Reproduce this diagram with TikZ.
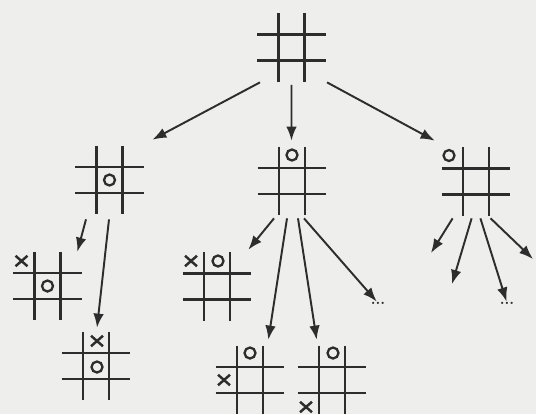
\documentclass[tikz,border=0pt]{standalone}
\usepackage{tikz}
\usetikzlibrary{arrows.meta,calc,positioning,shapes.misc}
\definecolor{paper}{RGB}{238,238,236}
\definecolor{ink}{RGB}{45,45,45}

\begin{document}
\begin{tikzpicture}[x=0.02cm,y=-0.02cm,
  board/.style={minimum size=1.36cm,inner sep=0pt},
  gridline/.style={ink,line width=1.4pt},
  omark/.style={circle,draw=ink,line width=1.3pt,minimum size=0.22cm,inner sep=0pt},
  xmark/.style={cross out,draw=ink,line width=1.4pt,minimum width=0.19cm,minimum height=0.16cm,inner sep=0pt},
  arr/.style={ink,line width=1.1pt,-{Latex[length=8pt,width=6pt]}},
  more/.style={text=ink,font=\footnotesize\bfseries,inner sep=0pt}]
\fill[paper] (0,0) rectangle (536,414);
\useasboundingbox (0,0) rectangle (536,414);
\foreach \n/\x/\y in {root/291.5/47.5,b2/109.5/180,b3/292/181,b4/476/181.5,
    b5/47.5/286,b6/217/286.5,b7/96/366,b8/250/380,b9/332/380}{
  \node[board] (\n) at (\x,\y) {};
  \draw[gridline] ([shift={(-13,0)}]\n.north) -- ([shift={(-13,0)}]\n.south);
  \draw[gridline] ([shift={(13,0)}]\n.north) -- ([shift={(13,0)}]\n.south);
  \draw[gridline] ([shift={(0,-13)}]\n.west) -- ([shift={(0,-13)}]\n.east);
  \draw[gridline] ([shift={(0,13)}]\n.west) -- ([shift={(0,13)}]\n.east);
}
\foreach \b/\dx/\dy in {b2/0/0,b3/0/-26,b4/-27/-26,b5/0/0,b6/1/-25.5,b7/1/1,b8/0/-27,b9/1/-27}
  \node[omark] (\b o) at ([shift={(\dx,\dy)}]\b.center) {};
\foreach \b/\dx/\dy in {b5/-26/-25,b6/-26/-25.5,b7/1/-25,b8/-26/0,b9/-26/27}
  \node[xmark] (\b x) at ([shift={(\dx,\dy)}]\b.center) {};
\node[more] (more1) at (378,303) {...};
\node[more] (more2) at (507,303) {...};
\coordinate (end1) at (431,253);
\coordinate (end2) at (452,284);
\coordinate (end4) at (533,259);
\draw[arr] ([shift={(-31.5,0.5)}]root.south) -- ([shift={(8.5,-6)}]b2.north east);
\draw[arr] ([shift={(0,3)}]root.south) -- ([shift={(-0.5,-6)}]b3.north);
\draw[arr] ([shift={(35.5,0.5)}]root.south) -- ([shift={(-7,-6.5)}]b4.north west);
\draw[arr] ([shift={(-23.5,5)}]b2.south) -- ([shift={(-4.5,0)}]b5.north east);
\draw[arr] ([shift={(-0.5,5)}]b2.south) -- ([shift={(1,-4)}]b7.north);
\draw[arr] ([shift={(-18,3)}]b3.south) -- ([shift={(-3,-2.5)}]b6.north east);
\draw[arr] ([shift={(-5,3)}]b3.south) -- ([shift={(-16,-6)}]b8.north east);
\draw[arr] ([shift={(6,3)}]b3.south) -- ([shift={(19,-6)}]b9.north west);
\draw[arr] ([shift={(12,3)}]b3.south) -- ([shift={(-13,-21)}]more1);
\draw[arr] ([shift={(-23.4,2.5)}]b4.south) -- (end1);
\draw[arr] ([shift={(-4.4,2.5)}]b4.south) -- (end2);
\draw[arr] ([shift={(4.4,2.5)}]b4.south) -- ([shift={(-14,-26)}]more2);
\draw[arr] ([shift={(14.6,2.5)}]b4.south) -- (end4);
\end{tikzpicture}
\end{document}
